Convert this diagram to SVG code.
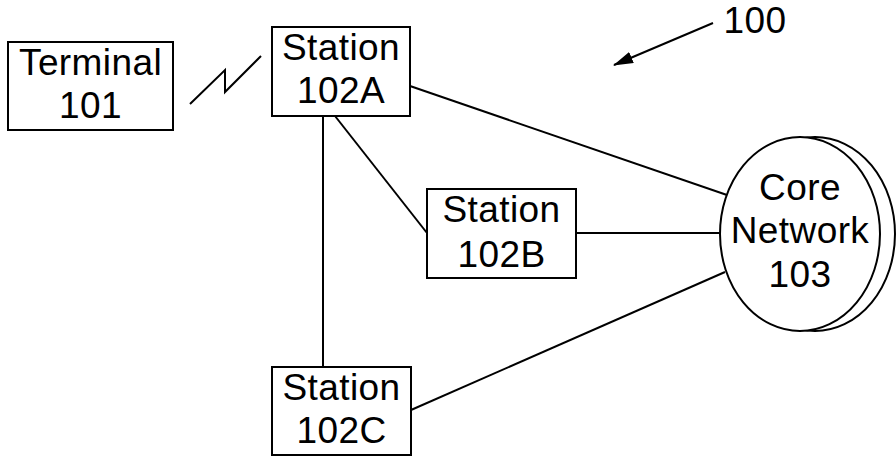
<svg xmlns="http://www.w3.org/2000/svg" width="896" height="456" viewBox="0 0 896 456">
<style>
.box{fill:#fff;stroke:#000;stroke-width:2}
.ln{fill:none;stroke:#000;stroke-width:2}
text{font-family:"Liberation Sans",Arial,sans-serif;font-size:37px;letter-spacing:0.4px;fill:#000;text-anchor:middle}
</style>
<defs>
<marker id="ah" markerWidth="20" markerHeight="12" refX="19" refY="6" orient="auto" markerUnits="userSpaceOnUse" viewBox="0 0 20 12">
<path d="M0,0 L20,6 L0,12 Z" fill="#000"/>
</marker>
</defs>
<rect width="896" height="456" fill="#fff"/>
<g id="connectors">
<line class="ln" x1="323" y1="116" x2="323" y2="367"/>
<line class="ln" x1="335" y1="116" x2="427" y2="233"/>
<line class="ln" x1="410" y1="86" x2="727" y2="195"/>
<line class="ln" x1="576" y1="233" x2="722" y2="233"/>
<line class="ln" x1="411" y1="410" x2="725" y2="272"/>
<polyline class="ln" points="190,104 225,70 225,92 261,56"/>
</g>
<g id="label100">
<text x="755" y="33" font-size="35">100</text>
<line class="ln" x1="713" y1="23" x2="614" y2="65" marker-end="url(#ah)"/>
</g>
<g id="terminal101">
<rect class="box" x="8" y="42" width="165" height="88"/>
<text x="90.5" y="75">Terminal</text>
<text x="90.5" y="118">101</text>
</g>
<g id="station102A">
<rect class="box" x="272" y="27" width="138" height="89"/>
<text x="341" y="60">Station</text>
<text x="341" y="103">102A</text>
</g>
<g id="station102B">
<rect class="box" x="427" y="189" width="149" height="89"/>
<text x="501.5" y="222">Station</text>
<text x="501.5" y="267">102B</text>
</g>
<g id="station102C">
<rect class="box" x="272" y="367" width="139" height="88"/>
<text x="341.5" y="400">Station</text>
<text x="341.5" y="443">102C</text>
</g>
<g id="core103">
<ellipse class="box" cx="815" cy="234" rx="80" ry="97"/>
<ellipse class="box" cx="800" cy="234" rx="80" ry="97"/>
<text x="800" y="200">Core</text>
<text x="800" y="243">Network</text>
<text x="800" y="287">103</text>
</g>
</svg>
